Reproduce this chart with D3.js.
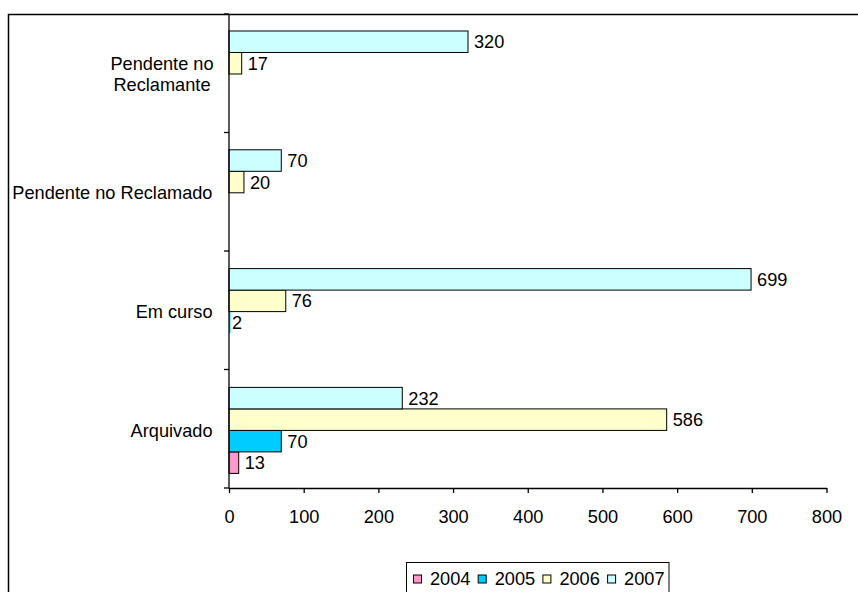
<!DOCTYPE html>
<html>
<head>
<meta charset="utf-8">
<script src="https://cdn.jsdelivr.net/npm/d3@7"></script>
<style>
  html, body { margin: 0; padding: 0; background: #fff; }
  svg { display: block; font-family: "Liberation Sans", Arial, sans-serif; }
</style>
</head>
<body>
<svg id="chart" width="858" height="592"></svg>
<script>
// Categories, listed top to bottom
const categories = [
  ["Pendente no", "Reclamante"],
  ["Pendente no Reclamado"],
  ["Em curso"],
  ["Arquivado"]
];
const categoryKeys = ["Reclamante", "Reclamado", "Em curso", "Arquivado"];

// Years; within a group they are stacked from the top: 2007, 2006, 2005, 2004
const years = ["2004", "2005", "2006", "2007"];
const yearColors = ["#FF99CC", "#00CCFF", "#FFFFCC", "#CCFFFF"];

// Values per year, in the order of categoryKeys (null = no bar)
const values2004 = [null, null, null, 13];
const values2005 = [null, null, 2, 70];
const values2006 = [17, 20, 76, 586];
const values2007 = [320, 70, 699, 232];
const seriesValues = [values2004, values2005, values2006, values2007];

const xTicks = [0, 100, 200, 300, 400, 500, 600, 700, 800];

const svg = d3.select("#chart");
const fontSize = 18.2;

// Outer frame
svg.append("rect")
  .attr("x", 8.5).attr("y", 14.5)
  .attr("width", 900).attr("height", 700)
  .attr("fill", "none").attr("stroke", "#000").attr("stroke-width", 1.5);

const plot = { left: 229, right: 826.5, top: 14, bottom: 488 };

const x = d3.scaleLinear().domain([0, 800]).range([plot.left, plot.right]);
const y = d3.scaleBand().domain(categoryKeys)
  .range([plot.top, 490.4]).paddingInner(0.276).paddingOuter(0.143);
const yearOrder = ["2007", "2006", "2005", "2004"];
const ySub = d3.scaleBand().domain(yearOrder).range([0, y.bandwidth()]);

// Bars
years.forEach((yr, si) => {
  const g = svg.append("g");
  categoryKeys.forEach((cat, ci) => {
    const v = seriesValues[si][ci];
    if (v === null) return;
    const by = y(cat) + ySub(yr);
    const w = x(v) - x(0);
    g.append("rect")
      .attr("x", x(0)).attr("y", by)
      .attr("width", w).attr("height", ySub.bandwidth())
      .attr("fill", yearColors[si])
      .attr("stroke", w > 3 ? "#000" : "none").attr("stroke-width", 1);
    g.append("text")
      .attr("x", w > 3 ? x(v) + 6 : x(v) + 1.5).attr("y", by + ySub.bandwidth() / 2)
      .attr("dy", "0.36em")
      .attr("font-size", fontSize).attr("fill", "#000")
      .text(v);
  });
});

// X axis
const xAxis = d3.axisBottom(x).tickValues(xTicks).tickSize(5).tickSizeOuter(0).tickPadding(17);
const gx = svg.append("g").attr("transform", `translate(0,${plot.bottom})`).call(xAxis);
gx.select(".domain").attr("stroke", "#000").attr("stroke-width", 1.3);
gx.selectAll(".tick line").attr("stroke", "#000").attr("stroke-width", 1.3);
gx.selectAll(".tick text").attr("font-size", fontSize).attr("font-family", "Liberation Sans, Arial, sans-serif").attr("fill", "#000");

// Y axis: ticks at category boundaries
const yEdge = d3.scaleLinear().domain([0, 4]).range([plot.top, plot.bottom]);
const gy = svg.append("g");
gy.append("line")
  .attr("x1", plot.left).attr("x2", plot.left)
  .attr("y1", plot.top).attr("y2", plot.bottom)
  .attr("stroke", "#000").attr("stroke-width", 1.3);
d3.range(0, 5).forEach(i => {
  gy.append("line")
    .attr("x1", plot.left - 5).attr("x2", plot.left)
    .attr("y1", yEdge(i)).attr("y2", yEdge(i))
    .attr("stroke", "#000").attr("stroke-width", 1.3);
});

// Category labels
categoryKeys.forEach((cat, i) => {
  const lines = categories[i];
  const cy = y(cat) + y.bandwidth() / 2;
  const lh = 21;
  const t = svg.append("text")
    .attr("font-size", fontSize).attr("fill", "#000");
  if (lines.length > 1) {
    t.attr("text-anchor", "middle");
    lines.forEach((ln, j) => {
      t.append("tspan")
        .attr("x", 162)
        .attr("y", cy + (j - (lines.length - 1) / 2) * lh)
        .attr("dy", "0.36em")
        .text(ln);
    });
  } else {
    t.attr("text-anchor", "end").attr("x", 212.5).attr("y", cy).attr("dy", "0.36em").text(lines[0]);
  }
});

// Legend
const legend = svg.append("g");
legend.append("rect")
  .attr("x", 406.5).attr("y", 562.5).attr("width", 262.5).attr("height", 60)
  .attr("fill", "#fff").attr("stroke", "#000").attr("stroke-width", 1);
years.forEach((yr, i) => {
  const lx = 413.5 + i * 64.7;
  legend.append("rect")
    .attr("x", lx).attr("y", 575).attr("width", 8).attr("height", 8)
    .attr("fill", yearColors[i]).attr("stroke", "#000").attr("stroke-width", 1);
  legend.append("text")
    .attr("x", lx + 16.5).attr("y", 578.8).attr("dy", "0.36em")
    .attr("font-size", fontSize).attr("fill", "#000")
    .text(yr);
});
</script>
</body>
</html>
